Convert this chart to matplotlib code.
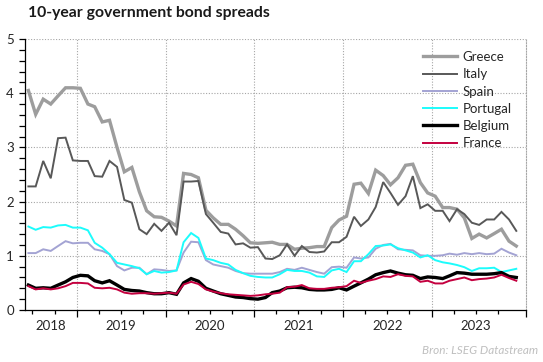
import matplotlib
matplotlib.use("Agg")
from matplotlib import pyplot as plt
import matplotlib.dates as mdates
import matplotlib.transforms as mtransforms
import pandas as pd

plt.rcParams['font.family'] = ['Lato', 'DejaVu Sans']

# monthly observations, Jun 2018 - Dec 2023 (plotted mid-month)
months = pd.date_range("2018-06-01", "2023-12-01", freq="MS") + pd.Timedelta(days=14)

greece = [4.05, 3.61, 3.89, 3.80, 3.95, 4.10, 4.10, 4.09, 3.80, 3.75, 3.47, 3.50,
          3.00, 2.55, 2.63, 2.18, 1.83, 1.72, 1.71, 1.64, 1.55, 2.52, 2.50, 2.44,
          1.84, 1.70, 1.58, 1.58, 1.49, 1.37, 1.24, 1.23, 1.24, 1.25, 1.21, 1.21,
          1.12, 1.14, 1.15, 1.17, 1.17, 1.52, 1.66, 1.73, 2.32, 2.34, 2.15, 2.58,
          2.48, 2.31, 2.44, 2.67, 2.69, 2.35, 2.16, 2.10, 1.89, 1.89, 1.86, 1.70,
          1.32, 1.40, 1.33, 1.41, 1.49, 1.27, 1.18]
italy = [2.28, 2.28, 2.75, 2.43, 3.17, 3.18, 2.76, 2.75, 2.75, 2.47, 2.46, 2.75,
         2.64, 2.03, 1.98, 1.49, 1.40, 1.59, 1.46, 1.61, 1.38, 2.37, 2.37, 2.38,
         1.77, 1.61, 1.44, 1.41, 1.21, 1.23, 1.15, 1.16, 0.95, 0.94, 1.01, 1.21,
         1.00, 1.18, 1.07, 1.06, 1.08, 1.25, 1.25, 1.35, 1.72, 1.55, 1.67, 1.90,
         2.36, 2.16, 1.94, 2.10, 2.47, 1.88, 1.95, 1.83, 1.83, 1.64, 1.86, 1.77,
         1.61, 1.57, 1.67, 1.67, 1.81, 1.67, 1.46]
spain = [1.05, 1.05, 1.12, 1.09, 1.18, 1.27, 1.23, 1.24, 1.24, 1.12, 1.09, 1.03,
         0.81, 0.73, 0.78, 0.78, 0.66, 0.75, 0.74, 0.72, 0.73, 1.06, 1.26, 1.25,
         0.92, 0.84, 0.81, 0.78, 0.72, 0.68, 0.67, 0.67, 0.67, 0.67, 0.70, 0.76,
         0.74, 0.78, 0.74, 0.70, 0.67, 0.79, 0.80, 0.78, 0.97, 0.95, 0.97, 1.13,
         1.20, 1.22, 1.12, 1.11, 1.10, 1.01, 1.00, 1.00, 1.01, 1.04, 1.02, 1.05,
         1.03, 1.05, 1.03, 1.04, 1.13, 1.06, 1.01]
portugal = [1.54, 1.48, 1.53, 1.52, 1.56, 1.57, 1.52, 1.52, 1.47, 1.24, 1.15, 1.03,
            0.87, 0.84, 0.81, 0.77, 0.66, 0.72, 0.69, 0.70, 0.73, 1.25, 1.42, 1.33,
            0.95, 0.92, 0.87, 0.84, 0.74, 0.68, 0.63, 0.61, 0.60, 0.60, 0.66, 0.74,
            0.72, 0.72, 0.69, 0.62, 0.61, 0.73, 0.76, 0.70, 0.90, 0.90, 1.03, 1.18,
            1.19, 1.21, 1.14, 1.10, 1.06, 0.97, 1.01, 0.92, 0.88, 0.86, 0.83, 0.79,
            0.72, 0.77, 0.77, 0.78, 0.70, 0.73, 0.76]
belgium = [0.46, 0.40, 0.41, 0.40, 0.46, 0.52, 0.60, 0.64, 0.63, 0.54, 0.50, 0.54,
           0.46, 0.38, 0.36, 0.35, 0.32, 0.30, 0.30, 0.32, 0.29, 0.50, 0.58, 0.53,
           0.40, 0.35, 0.30, 0.27, 0.24, 0.23, 0.21, 0.20, 0.23, 0.32, 0.35, 0.41,
           0.42, 0.41, 0.38, 0.37, 0.37, 0.38, 0.41, 0.37, 0.44, 0.50, 0.57, 0.65,
           0.69, 0.72, 0.68, 0.65, 0.64, 0.58, 0.61, 0.60, 0.58, 0.63, 0.69, 0.68,
           0.66, 0.66, 0.66, 0.67, 0.69, 0.62, 0.60]
france = [0.44, 0.38, 0.40, 0.38, 0.40, 0.44, 0.50, 0.50, 0.49, 0.41, 0.40, 0.41,
          0.38, 0.32, 0.30, 0.31, 0.31, 0.30, 0.31, 0.32, 0.30, 0.47, 0.52, 0.48,
          0.38, 0.34, 0.31, 0.29, 0.28, 0.27, 0.26, 0.27, 0.29, 0.30, 0.32, 0.42,
          0.43, 0.46, 0.40, 0.39, 0.39, 0.41, 0.42, 0.44, 0.54, 0.50, 0.54, 0.57,
          0.62, 0.61, 0.66, 0.63, 0.62, 0.52, 0.54, 0.49, 0.49, 0.54, 0.57, 0.60,
          0.55, 0.57, 0.58, 0.60, 0.65, 0.59, 0.54]

series = [
    ("Greece", greece, "#9d9d9d", 2.4),
    ("Italy", italy, "#585858", 1.4),
    ("Spain", spain, "#a3a3d3", 1.4),
    ("Portugal", portugal, "#1cfcfc", 1.4),
    ("Belgium", belgium, "#000000", 2.4),
    ("France", france, "#c4003f", 1.4),
]
years = [2018, 2019, 2020, 2021, 2022, 2023]

fig = plt.figure(figsize=(5.43, 3.62), dpi=100)
ax = fig.add_axes([25 / 543, 52 / 362, 501 / 543, 271 / 362])

for name, vals, col, lw in series:
    ax.plot(months, vals, color=col, lw=lw, label=name, solid_joinstyle="miter")

x0 = pd.Timestamp("2018-06-01")
x1 = pd.Timestamp("2024-01-24")
ax.set_xlim(x0, x1)
ax.set_ylim(0, 5)

grid_kw = dict(color="#a6a6a6", lw=0.8, ls=(0, (1, 1.5)))
for v in [1, 2, 3, 4, 5]:
    ax.axhline(v, zorder=0, **grid_kw)
for y in years[1:]:
    ax.axvline(pd.Timestamp(f"{y}-01-01"), zorder=0, **grid_kw)

ax.spines["top"].set_visible(False)
ax.spines["right"].set_color("#a6a6a6")
ax.spines["right"].set_linestyle((0, (1, 1.5)))
ax.spines["right"].set_linewidth(0.8)
ax.spines["left"].set_linewidth(0.9)
ax.spines["bottom"].set_linewidth(0.9)

ax.set_yticks([0, 1, 2, 3, 4, 5])
ax.set_yticks([i / 5 for i in range(26)], minor=True)
ax.tick_params(axis="y", which="both", direction="out", length=4, width=0.9,
               labelsize=9.5, pad=4, colors="#000000")
ax.tick_params(axis="y", labelcolor="#262626")

ax.set_xticks([pd.Timestamp(f"{y}-01-01") for y in years[1:]] + [x1])
ax.set_xticklabels([])
ax.xaxis.set_minor_locator(mdates.MonthLocator(bymonth=[4, 7, 10]))
ax.tick_params(axis="x", which="major", direction="out", length=5, width=0.9)
ax.tick_params(axis="x", which="minor", direction="out", length=3, width=0.9)

trans = mtransforms.blended_transform_factory(ax.transData, ax.transAxes)
for y in years:
    a = max(pd.Timestamp(f"{y}-01-01"), x0)
    b = min(pd.Timestamp(f"{y + 1}-01-01"), x1)
    mid = a + (b - a) / 2
    ax.text(mid, -16 / 271, str(y), transform=trans, ha="center", va="center",
            fontsize=9.5, color="#262626")

ax.legend(loc="upper left", bbox_to_anchor=(423 / 543, 1 - 51 / 362),
          bbox_transform=fig.transFigure, frameon=False, fontsize=9.5,
          borderpad=0, borderaxespad=0, handlelength=2.6, handletextpad=0.4,
          labelspacing=0.4, labelcolor="#262626")

fig.text(28 / 543, 1 - 13 / 362, "10-year government bond spreads",
         fontsize=11.3, fontweight="bold", va="center", ha="left", color="#1a1a1a")
fig.text(538 / 543, 1 - 351 / 362, "Bron: LSEG Datastream", fontsize=8.5,
         style="italic", color="#bfbfbf", ha="right", va="center")

fig.savefig("out.png", dpi=100)
